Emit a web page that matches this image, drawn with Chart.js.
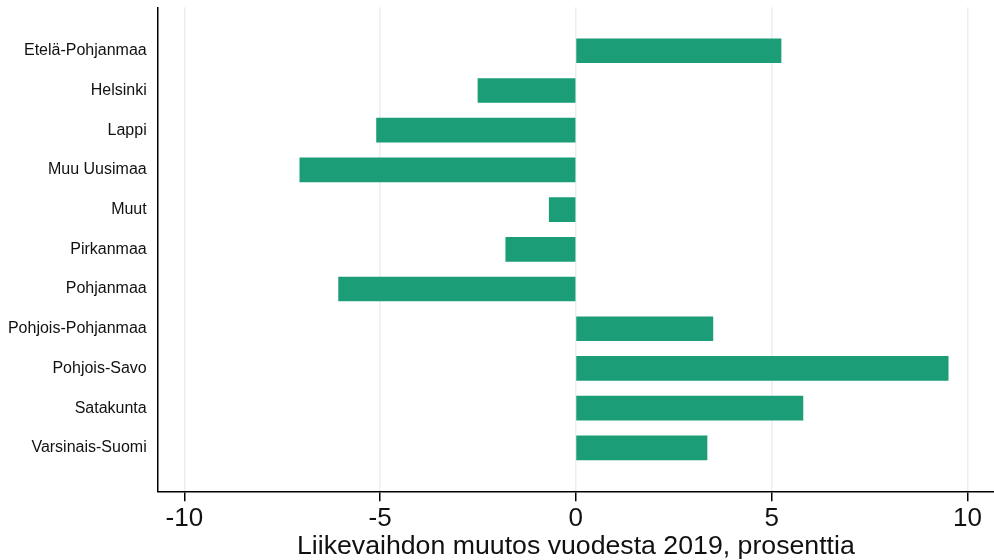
<!DOCTYPE html>
<html>
<head>
<meta charset="utf-8">
<script src="https://cdn.jsdelivr.net/npm/chart.js@4.4.1/dist/chart.umd.min.js"></script>
<style>
  html, body { margin: 0; padding: 0; background: #fff; }
  #wrap { width: 994px; height: 560px; }
</style>
</head>
<body>
<div id="wrap"><canvas id="chart"></canvas></div>
<script>
const regions = [
  "Etelä-Pohjanmaa",
  "Helsinki",
  "Lappi",
  "Muu Uusimaa",
  "Muut",
  "Pirkanmaa",
  "Pohjanmaa",
  "Pohjois-Pohjanmaa",
  "Pohjois-Savo",
  "Satakunta",
  "Varsinais-Suomi"
];
const changes = [5.24, -2.5, -5.09, -7.05, -0.68, -1.79, -6.06, 3.5, 9.51, 5.8, 3.35];
const xTicks = [-10, -5, 0, 5, 10];
const xTitle = "Liikevaihdon muutos vuodesta 2019, prosenttia";

const fontFamily = '"Liberation Sans", Arial, Helvetica, sans-serif';
const barColor = "#1b9e77";
const gridColor = "#e8eff2";

Chart.defaults.font.family = fontFamily;
Chart.defaults.color = "#111";

const ctx = document.getElementById("chart").getContext("2d");

new Chart(ctx, {
  type: "bar",
  data: {
    datasets: [
      {
        data: changes.map((v, i) => ({ x: v, y: i })),
        backgroundColor: barColor,
        borderWidth: 0,
        barThickness: 24
      }
    ]
  },
  options: {
    indexAxis: "y",
    responsive: true,
    maintainAspectRatio: false,
    animation: false,
    layout: { padding: { top: 7.3, right: 0, bottom: 0, left: 0 } },
    plugins: {
      legend: { display: false },
      tooltip: { enabled: false }
    },
    scales: {
      x: {
        type: "linear",
        position: "bottom",
        min: -10.68,
        max: 10.68,
        afterBuildTicks: (scale) => {
          scale.ticks = xTicks.map((value) => ({ value }));
        },
        afterFit: (scale) => {
          scale.height = 68.7;
          scale.paddingLeft = 0;
          scale.paddingRight = 0;
        },
        grid: {
          color: gridColor,
          lineWidth: 1.5,
          drawTicks: true,
          tickLength: 10,
          tickColor: "#000",
          tickWidth: 1.5
        },
        border: { display: true, color: "#000", width: 1.5 },
        ticks: {
          color: "#111",
          font: { size: 26 },
          padding: 2,
          maxRotation: 0
        },
        title: {
          display: true,
          text: xTitle,
          color: "#111",
          font: { size: 26.7, lineHeight: 1 },
          padding: { top: -3, bottom: 0 }
        }
      },
      y: {
        type: "linear",
        reverse: true,
        offset: false,
        min: -1.095,
        max: 11.095,
        afterBuildTicks: (scale) => {
          scale.ticks = regions.map((_, i) => ({ value: i }));
        },
        afterFit: (scale) => {
          scale.width = 157.7;
          scale.paddingTop = 0;
          scale.paddingBottom = 0;
        },
        grid: { display: false, drawTicks: false },
        border: { display: true, color: "#000", width: 1.5 },
        ticks: {
          color: "#111",
          font: { size: 16 },
          padding: 11,
          callback: (value) => regions[value] ?? ""
        }
      }
    }
  }
});
</script>
</body>
</html>
